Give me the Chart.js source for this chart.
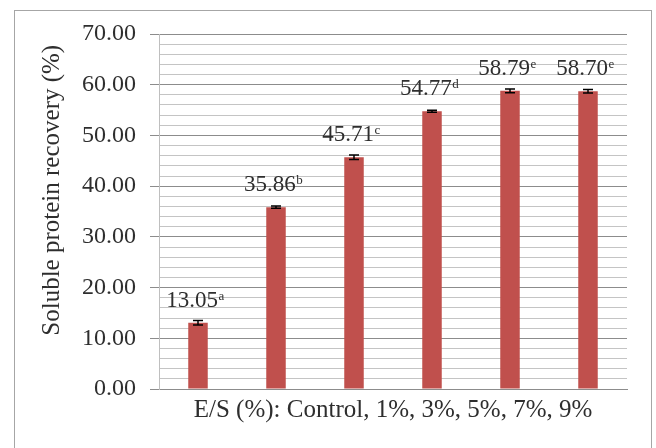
<!DOCTYPE html>
<html>
<head>
<meta charset="utf-8">
<style>
  html, body { margin: 0; padding: 0; background: #ffffff; }
  #wrap { width: 656px; height: 448px; }
</style>
<script src="https://cdn.jsdelivr.net/npm/chart.js@4/dist/chart.umd.min.js"></script>
</head>
<body>
<div id="wrap"><canvas id="chart" width="656" height="448"></canvas></div>
<script>
// Enzyme-to-substrate ratios and soluble protein recovery (%)
const categories = ['Control', '1%', '3%', '5%', '7%', '9%'];
const recovery = [13.05, 35.86, 45.71, 54.77, 58.79, 58.70];
const recoveryError = [0.45, 0.2, 0.45, 0.2, 0.35, 0.35];
const groupLetters = ['a', 'b', 'c', 'd', 'e', 'e'];
const yTickValues = [0, 10, 20, 30, 40, 50, 60, 70];

const SERIF = "'Liberation Serif', 'Times New Roman', serif";
const TEXT = '#2e2e2e';

// White page with a light frame around the figure
const framePlugin = {
  id: 'frame',
  beforeDraw(chart) {
    const ctx = chart.ctx;
    ctx.save();
    ctx.fillStyle = '#ffffff';
    ctx.fillRect(0, 0, chart.width, chart.height);
    ctx.strokeStyle = '#a6a6a6';
    ctx.lineWidth = 1;
    ctx.strokeRect(14.5, 10.5, 637, 470);
    ctx.restore();
  }
};

// Error bars and value labels with significance letters
const annotatePlugin = {
  id: 'annotate',
  afterDatasetsDraw(chart) {
    const ctx = chart.ctx;
    const yScale = chart.scales.y;
    const meta = chart.getDatasetMeta(0);
    ctx.save();
    meta.data.forEach((bar, i) => {
      const x = bar.x;
      const yHi = yScale.getPixelForValue(recovery[i] + recoveryError[i]);
      const yLo = yScale.getPixelForValue(recovery[i] - recoveryError[i]);
      ctx.strokeStyle = '#000000';
      ctx.lineWidth = 1.5;
      ctx.beginPath();
      ctx.moveTo(x, yHi); ctx.lineTo(x, yLo);
      ctx.moveTo(x - 5, yHi); ctx.lineTo(x + 5, yHi);
      ctx.moveTo(x - 5, yLo); ctx.lineTo(x + 5, yLo);
      ctx.stroke();

      const main = recovery[i].toFixed(2);
      const sup = groupLetters[i];
      ctx.font = '23px ' + SERIF;
      const wMain = ctx.measureText(main).width;
      ctx.font = '13px ' + SERIF;
      const wSup = ctx.measureText(sup).width;
      const total = wMain + wSup;
      const left = x - 3 - total / 2;
      const base = bar.y - 16;
      ctx.fillStyle = TEXT;
      ctx.textAlign = 'left';
      ctx.textBaseline = 'alphabetic';
      ctx.font = '23px ' + SERIF;
      ctx.fillText(main, left, base);
      ctx.font = '13px ' + SERIF;
      ctx.fillText(sup, left + wMain + 0.5, base - 7);
    });
    ctx.restore();
  }
};

new Chart(document.getElementById('chart'), {
  type: 'bar',
  data: {
    labels: categories,
    datasets: [{
      data: recovery,
      backgroundColor: '#C0504D',
      borderWidth: 0,
      barPercentage: 0.25,
      categoryPercentage: 1.0
    }]
  },
  options: {
    responsive: false,
    animation: false,
    devicePixelRatio: 1,
    layout: { padding: { left: 0, right: 29, top: 34, bottom: 0 } },
    plugins: {
      legend: { display: false },
      tooltip: { enabled: false }
    },
    scales: {
      x: {
        ticks: { display: false },
        grid: { display: false },
        border: { display: true, color: '#8c8c8c', width: 1 },
        title: {
          display: true,
          text: 'E/S (%): Control, 1%, 3%, 5%, 7%, 9%',
          color: TEXT,
          font: { family: SERIF, size: 25 },
          padding: { top: 0, bottom: 23 }
        },
        afterFit(scale) { scale.height = 59; }
      },
      y: {
        min: 0,
        max: 70,
        ticks: {
          stepSize: 2,
          autoSkip: false,
          padding: 14,
          color: TEXT,
          font: { family: SERIF, size: 24 },
          callback(v) { return yTickValues.includes(v) ? v.toFixed(2) : ''; }
        },
        grid: {
          color: (c) => yTickValues.includes(c.tick.value) ? '#8c8c8c' : '#c4c4c4',
          tickColor: (c) => yTickValues.includes(c.tick.value) ? '#8c8c8c' : 'rgba(0,0,0,0)',
          tickLength: 9,
          lineWidth: 1
        },
        border: { display: true, color: '#bfbfbf', width: 1 },
        title: {
          display: true,
          text: '\u2002\u2002\u2002\u2009Soluble protein recovery (%)',
          color: TEXT,
          font: { family: SERIF, size: 25 },
          padding: { top: 37, bottom: 0 }
        },
        afterFit(scale) { scale.width = 159; }
      }
    }
  },
  plugins: [framePlugin, annotatePlugin]
});
</script>
</body>
</html>
